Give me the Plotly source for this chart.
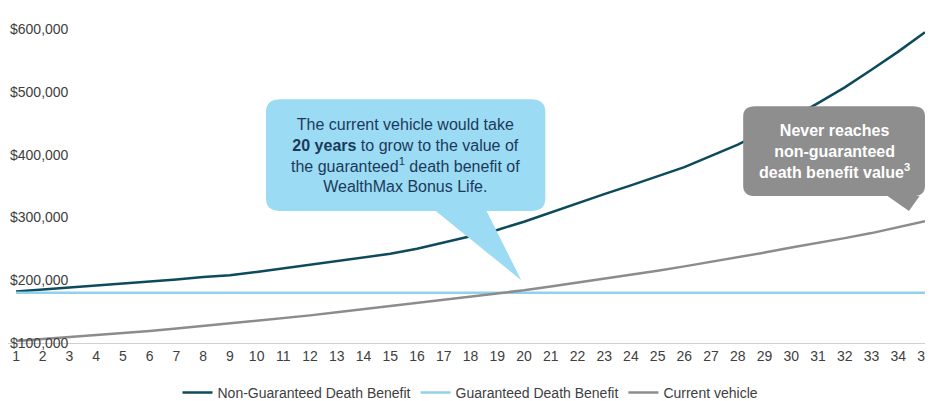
import plotly.graph_objects as go

years = list(range(1, 36))
non_guaranteed = [182000,185000,188000,191000,194000,197000,201000,205000,208000,213000,
                  219000,224000,230000,236000,242000,250000,260000,269000,280000,293000,
                  308000,322000,337000,351000,365000,380000,398000,416000,437000,458000,
                  482000,507000,535000,564000,595000]
guaranteed = [180000]*35
current = [103000,106000,109000,112000,116000,119000,123000,127000,131000,135000,
           140000,144000,149000,154000,158000,163000,168000,173000,179000,184000,
           190000,196000,202000,208000,215000,222000,229000,237000,244000,252000,
           259000,267000,275000,284000,294000]
y_ticks = [100000, 200000, 300000, 400000, 500000, 600000]
y_labels = ["$100,000", "$200,000", "$300,000", "$400,000", "$500,000", "$600,000"]

fig = go.Figure()
fig.add_trace(go.Scatter(x=years, y=non_guaranteed, mode="lines", name="Non-Guaranteed Death Benefit",
                         line=dict(color="#0d4a5c", width=2.5)))
fig.add_trace(go.Scatter(x=years, y=guaranteed, mode="lines", name="Guaranteed Death Benefit",
                         line=dict(color="#8fd2ea", width=2.5)))
fig.add_trace(go.Scatter(x=years, y=current, mode="lines", name="Current vehicle",
                         line=dict(color="#8c8c8c", width=2.5)))

def callout(x0, x1, y0, y1, t0, t1, tip, rx, ry):
    p = f"M {x0+rx},{y1} L {x1-rx},{y1} Q {x1},{y1} {x1},{y1-ry} L {x1},{y0+ry} Q {x1},{y0} {x1-rx},{y0} "
    p += f"L {t1},{y0} L {tip[0]},{tip[1]} L {t0},{y0} "
    p += f"L {x0+rx},{y0} Q {x0},{y0} {x0},{y0+ry} L {x0},{y1-ry} Q {x0},{y1} {x0+rx},{y1} Z"
    return p

fig.add_shape(type="path", xref="x", yref="y", layer="above",
              path=callout(10.35, 20.8, 310000, 488000, 16.7, 18.6, (19.9, 200000), 0.55, 20000),
              fillcolor="#9bdbf4", line=dict(width=0))
fig.add_shape(type="path", xref="x", yref="y", layer="above",
              path=callout(28.2, 35.0, 334000, 477000, 33.6, 34.8, (34.4, 310000), 0.45, 16000),
              fillcolor="#8e8e8e", line=dict(width=0))

fig.add_annotation(x=15.57, y=399000, xref="x", yref="y", showarrow=False,
                   text="The current vehicle would take<br><b>20 years</b> to grow to the value of<br>the guaranteed<sup>1</sup> death benefit of<br>WealthMax Bonus Life.",
                   font=dict(family="Liberation Sans, Arial", size=16, color="#1b3a5a"))
fig.add_annotation(x=31.6, y=405000, xref="x", yref="y", showarrow=False,
                   text="<b>Never reaches<br>non-guaranteed<br>death benefit value<sup>3</sup></b>",
                   font=dict(family="Liberation Sans, Arial", size=16, color="white"))

for v, lab in zip(y_ticks, y_labels):
    fig.add_annotation(x=0, xref="paper", xanchor="left", y=v, yref="y", yanchor="middle",
                       text=lab, showarrow=False, font=dict(size=14, color="#404040"))

fig.update_layout(
    width=933, height=401, margin=dict(l=0, r=8, t=21, b=58),
    plot_bgcolor="white", paper_bgcolor="white",
    font=dict(family="Liberation Sans, Arial", size=14, color="#404040"),
    xaxis=dict(range=[0.7, 35.3], tickmode="array", tickvals=years, showgrid=False,
               showline=True, linecolor="#d0d0d0", zeroline=False, ticks=""),
    yaxis=dict(range=[100000, 600000], showticklabels=False, showgrid=False, zeroline=False,
               showline=False),
    legend=dict(orientation="h", x=0.5, xanchor="center", y=-0.11, yanchor="top",
                font=dict(size=14)),
    showlegend=True,
)
fig.write_html("out.html")
